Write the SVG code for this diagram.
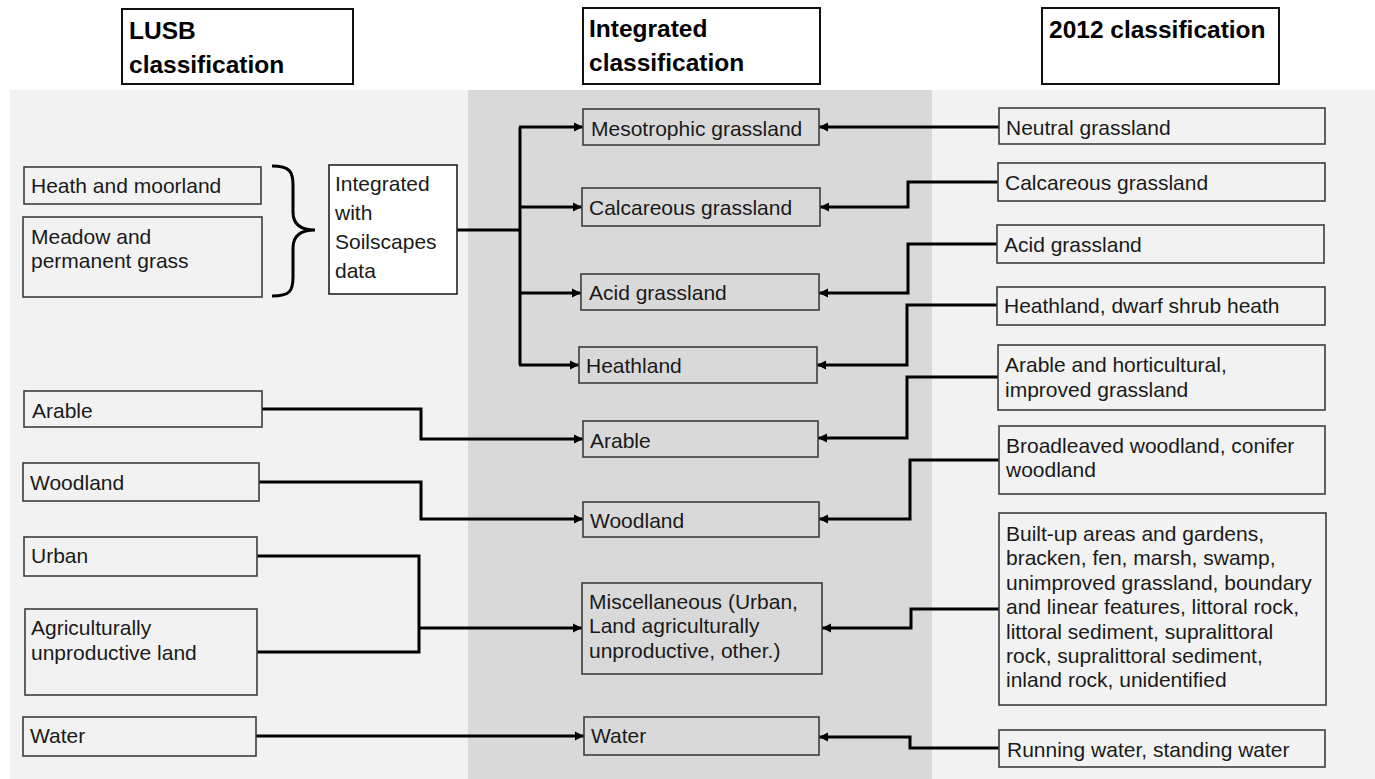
<svg xmlns="http://www.w3.org/2000/svg" width="1375" height="779" viewBox="0 0 1375 779">
  <style>
    text { font-family: "Liberation Sans", Arial, sans-serif; font-size: 21px; fill: #1a1a1a; }
    .head { font-weight: bold; font-size: 24.5px; fill: #000; }
    .hbox { fill: #fff; stroke: #111; stroke-width: 2; }
    .box { fill: none; stroke: #3c3c3c; stroke-width: 1.6; }
    .wbox { fill: #fff; stroke: #222; stroke-width: 1.6; }
    .conn { fill: none; stroke: #000; stroke-width: 3; stroke-linejoin: miter; }
    .arr { marker-end: url(#arrow); }
  </style>
  <defs>
    <marker id="arrow" markerUnits="userSpaceOnUse" markerWidth="12" markerHeight="12" viewBox="0 0 12 12" refX="11" refY="6" orient="auto">
      <path d="M2,1.5 L11,6 L2,10.5 Z" fill="#000"/>
    </marker>
  </defs>

  <!-- column panels -->
  <rect x="10" y="90" width="460" height="689" fill="#f2f2f2"/>
  <rect x="468" y="90" width="464" height="689" fill="#d9d9d9"/>
  <rect x="932" y="90" width="443" height="689" fill="#f2f2f2"/>

  <!-- column headers -->
  <g id="head-lusb">
    <rect class="hbox" x="122" y="9" width="231" height="75"/>
    <text class="head" x="129" y="39">LUSB</text>
    <text class="head" x="129" y="73">classification</text>
  </g>
  <g id="head-integrated">
    <rect class="hbox" x="583" y="8" width="237" height="76"/>
    <text class="head" x="589" y="37">Integrated</text>
    <text class="head" x="589" y="71">classification</text>
  </g>
  <g id="head-2012">
    <rect class="hbox" x="1042" y="8" width="237" height="76"/>
    <text class="head" x="1049" y="38">2012 classification</text>
  </g>

  <!-- connectors -->
  <g id="connectors">
    <!-- soilscapes split -->
    <path class="conn" d="M457,230 H520"/>
    <path class="conn" d="M520,127 V365"/>
    <path class="conn arr" d="M519,127 H583"/>
    <path class="conn arr" d="M520,207 H582"/>
    <path class="conn arr" d="M520,293 H581"/>
    <path class="conn arr" d="M519,365 H579"/>
    <!-- LUSB side -->
    <path class="conn arr" d="M262,409 H421 V439 H583"/>
    <path class="conn arr" d="M259,482 H421 V519 H583"/>
    <path class="conn" d="M257,556 H419 V652 H257"/>
    <path class="conn arr" d="M419,628 H582"/>
    <path class="conn arr" d="M256,736 H584"/>
    <!-- 2012 side -->
    <path class="conn arr" d="M999,127 H819"/>
    <path class="conn arr" d="M998,182 H908 V207 H820"/>
    <path class="conn arr" d="M997,244 H908 V293 H819"/>
    <path class="conn arr" d="M997,305 H907 V365 H817"/>
    <path class="conn arr" d="M998,377 H907 V438 H818"/>
    <path class="conn arr" d="M999,460 H910 V519 H819"/>
    <path class="conn arr" d="M999,609 H911 V628 H822"/>
    <path class="conn arr" d="M999,748 H910 V737 H819"/>
  </g>

  <!-- LUSB classes -->
  <g id="lusb-heath">
    <rect class="box" x="24" y="167" width="237" height="37"/>
    <text x="31" y="193">Heath and moorland</text>
  </g>
  <g id="lusb-meadow">
    <rect class="box" x="23" y="217" width="239" height="80"/>
    <text x="31" y="244">Meadow and</text>
    <text x="31" y="268">permanent grass</text>
  </g>
  <g id="brace">
    <path d="M272,166 C290,166 293,172 293,185 V212 C293,224 300,230 315,230 C300,230 293,236 293,248 V277 C293,291 290,296 272,296" fill="none" stroke="#000" stroke-width="3"/>
  </g>
  <g id="soilscapes">
    <rect class="wbox" x="329" y="165" width="128" height="129"/>
    <text x="335" y="191">Integrated</text>
    <text x="335" y="220">with</text>
    <text x="335" y="249">Soilscapes</text>
    <text x="335" y="278">data</text>
  </g>
  <g id="lusb-arable">
    <rect class="box" x="24" y="391" width="238" height="36"/>
    <text x="32" y="418">Arable</text>
  </g>
  <g id="lusb-woodland">
    <rect class="box" x="23" y="463" width="236" height="38"/>
    <text x="30" y="490">Woodland</text>
  </g>
  <g id="lusb-urban">
    <rect class="box" x="24" y="537" width="233" height="39"/>
    <text x="31" y="563">Urban</text>
  </g>
  <g id="lusb-agri">
    <rect class="box" x="25" y="609" width="232" height="86"/>
    <text x="31" y="635">Agriculturally</text>
    <text x="31" y="660">unproductive land</text>
  </g>
  <g id="lusb-water">
    <rect class="box" x="23" y="717" width="233" height="39"/>
    <text x="30" y="743">Water</text>
  </g>

  <!-- integrated classes -->
  <g id="int-meso">
    <rect class="box" x="583" y="109" width="236" height="36"/>
    <text x="591" y="136">Mesotrophic grassland</text>
  </g>
  <g id="int-calc">
    <rect class="box" x="582" y="188" width="238" height="38"/>
    <text x="589" y="215">Calcareous grassland</text>
  </g>
  <g id="int-acid">
    <rect class="box" x="581" y="274" width="238" height="36"/>
    <text x="589" y="300">Acid grassland</text>
  </g>
  <g id="int-heath">
    <rect class="box" x="579" y="347" width="238" height="36"/>
    <text x="586" y="373">Heathland</text>
  </g>
  <g id="int-arable">
    <rect class="box" x="583" y="421" width="235" height="36"/>
    <text x="590" y="448">Arable</text>
  </g>
  <g id="int-woodland">
    <rect class="box" x="583" y="502" width="236" height="35"/>
    <text x="590" y="528">Woodland</text>
  </g>
  <g id="int-misc">
    <rect class="box" x="582" y="583" width="240" height="91"/>
    <text x="589" y="609">Miscellaneous (Urban,</text>
    <text x="589" y="633">Land agriculturally</text>
    <text x="589" y="658">unproductive, other.)</text>
  </g>
  <g id="int-water">
    <rect class="box" x="584" y="717" width="235" height="38"/>
    <text x="591" y="743">Water</text>
  </g>

  <!-- 2012 classes -->
  <g id="c12-neutral">
    <rect class="box" x="999" y="108" width="326" height="36"/>
    <text x="1006" y="135">Neutral grassland</text>
  </g>
  <g id="c12-calc">
    <rect class="box" x="998" y="163" width="327" height="38"/>
    <text x="1005" y="190">Calcareous grassland</text>
  </g>
  <g id="c12-acid">
    <rect class="box" x="997" y="225" width="327" height="38"/>
    <text x="1004" y="252">Acid grassland</text>
  </g>
  <g id="c12-heath">
    <rect class="box" x="997" y="287" width="328" height="38"/>
    <text x="1004" y="313">Heathland, dwarf shrub heath</text>
  </g>
  <g id="c12-arable">
    <rect class="box" x="998" y="345" width="327" height="65"/>
    <text x="1005" y="372">Arable and horticultural,</text>
    <text x="1005" y="397">improved grassland</text>
  </g>
  <g id="c12-woodland">
    <rect class="box" x="999" y="426" width="326" height="68"/>
    <text x="1006" y="453">Broadleaved woodland, conifer</text>
    <text x="1006" y="477">woodland</text>
  </g>
  <g id="c12-misc">
    <rect class="box" x="999" y="513" width="327" height="192"/>
    <text x="1006" y="541">Built-up areas and gardens,</text>
    <text x="1006" y="565.4">bracken, fen, marsh, swamp,</text>
    <text x="1006" y="589.8">unimproved grassland, boundary</text>
    <text x="1006" y="614.2">and linear features, littoral rock,</text>
    <text x="1006" y="638.6">littoral sediment, supralittoral</text>
    <text x="1006" y="663">rock, supralittoral sediment,</text>
    <text x="1006" y="687.4">inland rock, unidentified</text>
  </g>
  <g id="c12-water">
    <rect class="box" x="999" y="730" width="326" height="37"/>
    <text x="1007" y="757">Running water, standing water</text>
  </g>
</svg>
